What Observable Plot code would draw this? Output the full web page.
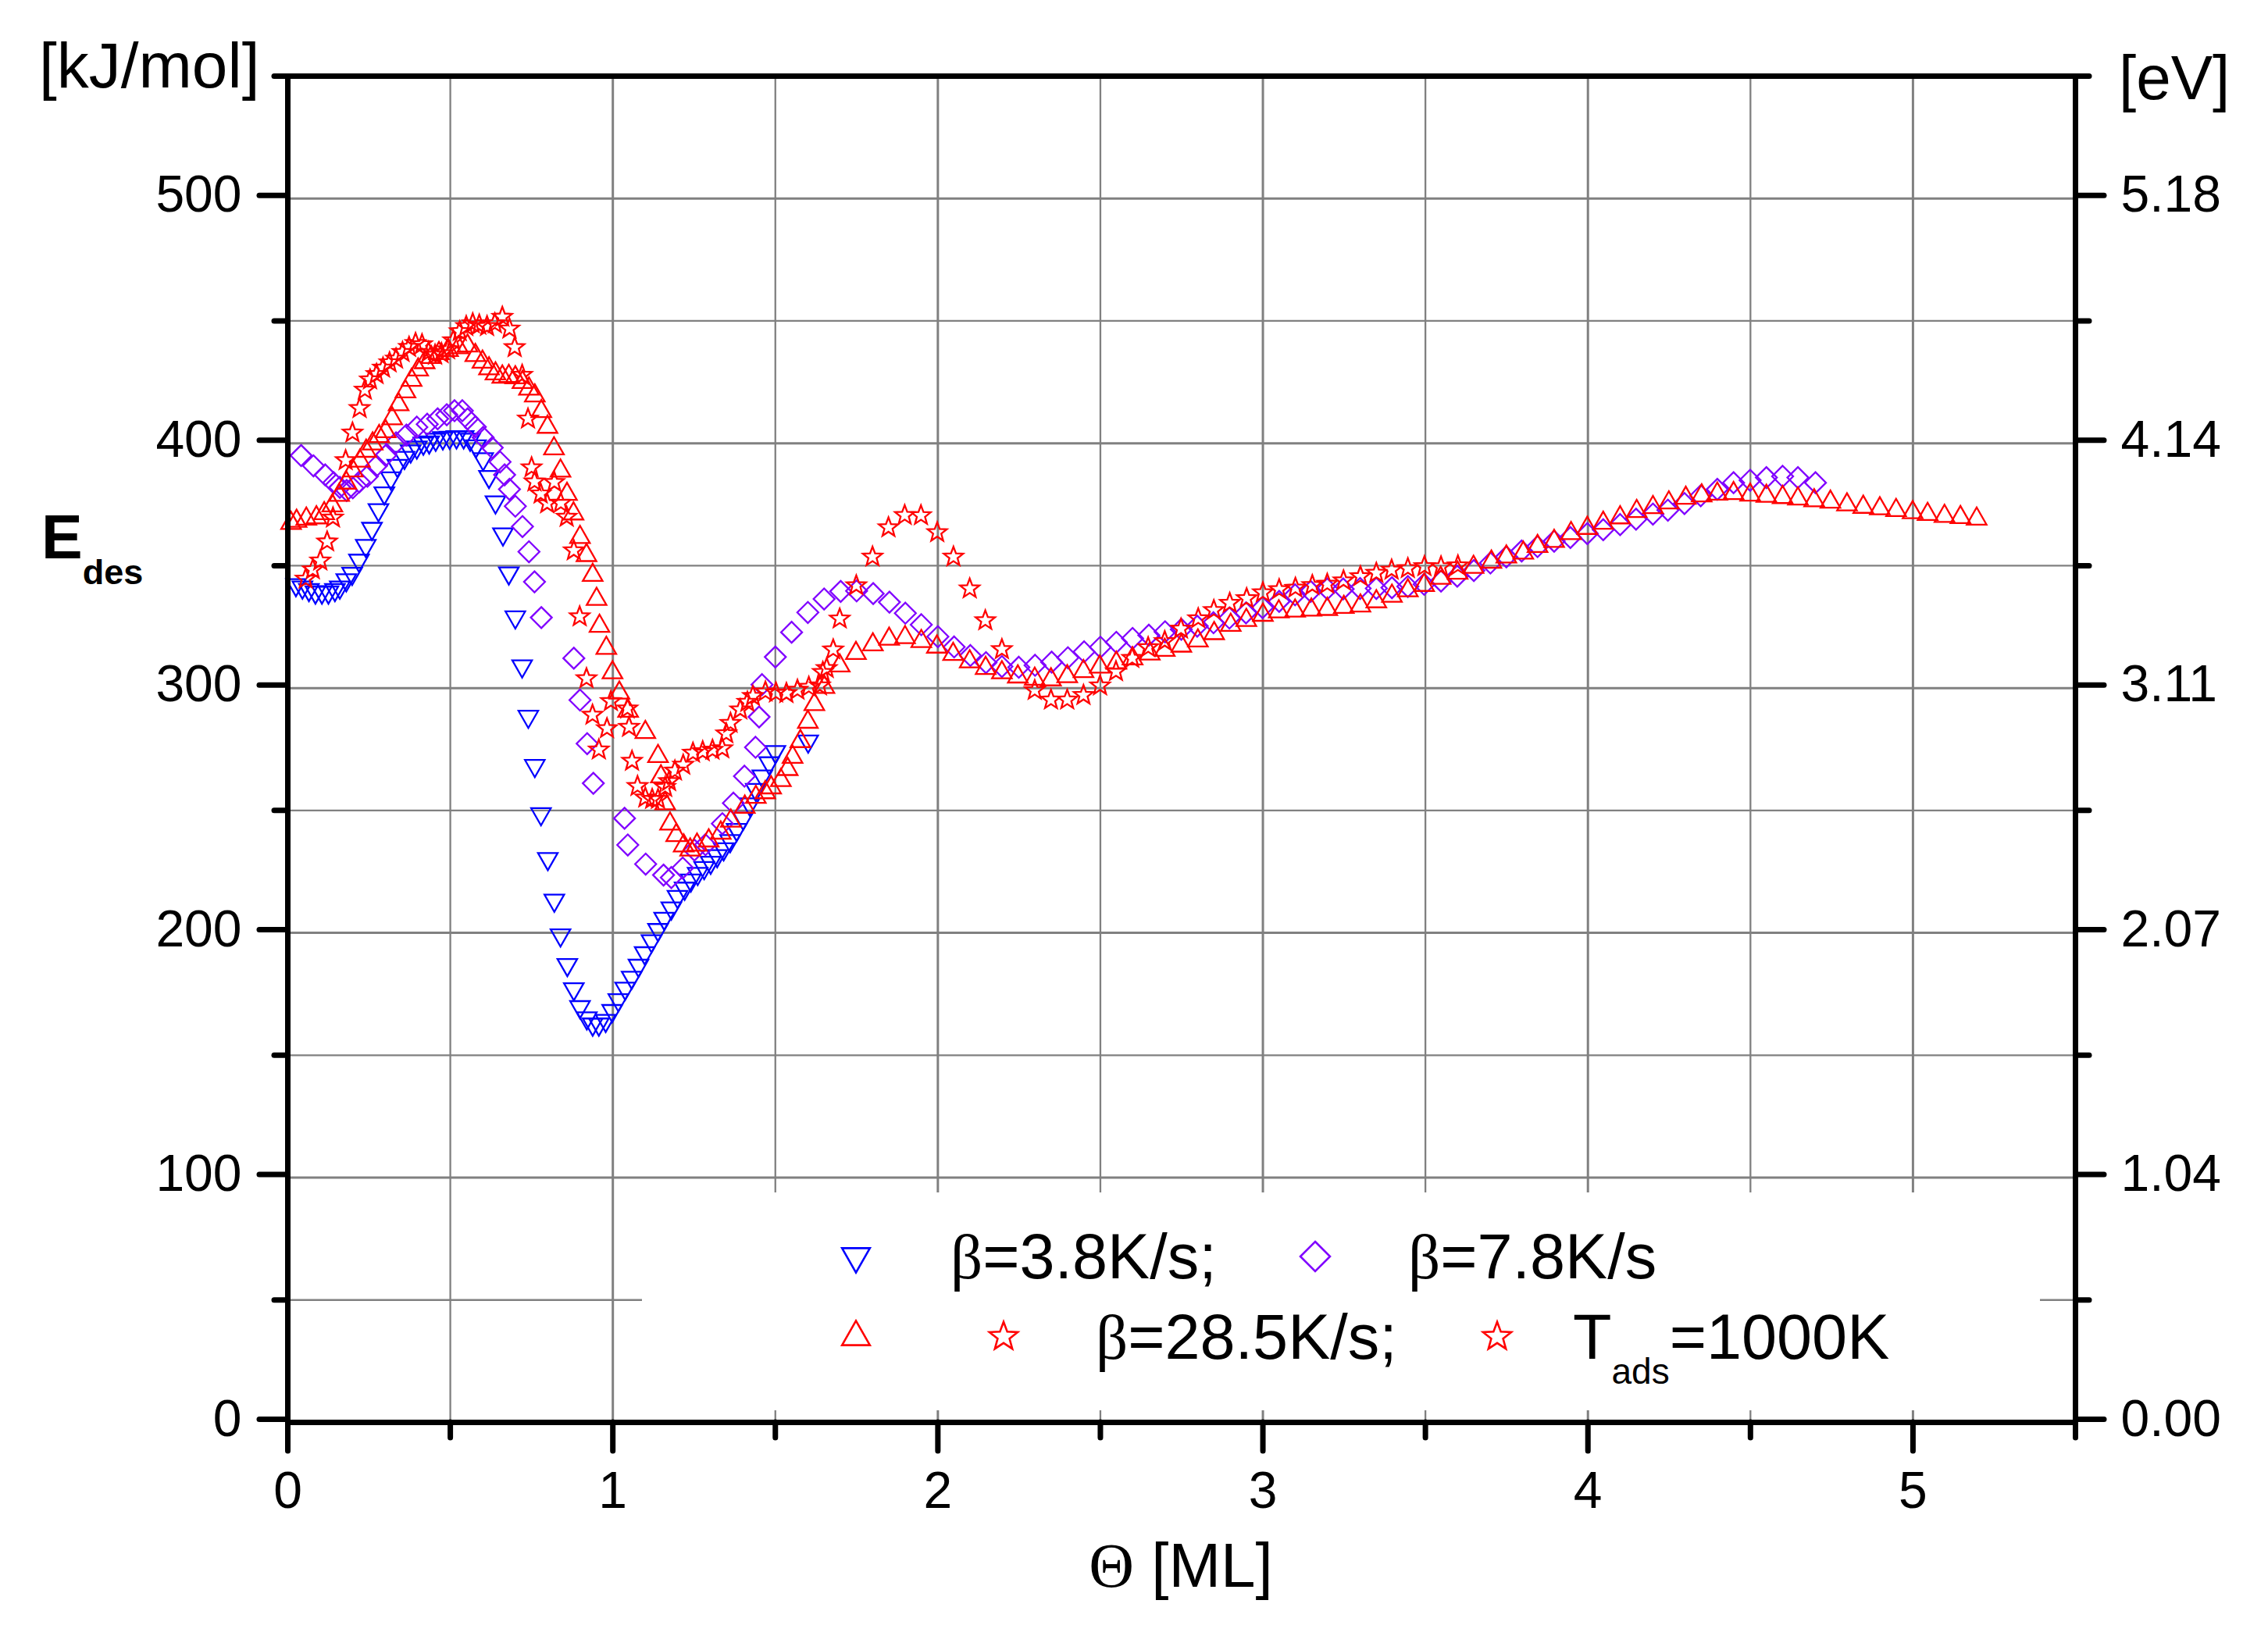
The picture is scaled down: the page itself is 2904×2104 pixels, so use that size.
<!DOCTYPE html>
<html><head><meta charset="utf-8">
<script src="https://cdn.jsdelivr.net/npm/d3@7"></script>
<script src="https://cdn.jsdelivr.net/npm/@observablehq/plot@0.6"></script>
<style>
html,body{margin:0;padding:0;background:#fff;}
#chart{position:relative;width:2904px;height:2104px;}
</style>
</head><body><div id="chart"></div>
<script>
// ---- tick values and labels ----
const xMajor = [0, 1, 2, 3, 4, 5];
const xMinor = [0.5, 1.5, 2.5, 3.5, 4.5, 5.5];
const yMajor = [0, 100, 200, 300, 400, 500];
const yMinor = [50, 150, 250, 350, 450, 550];
const eVLabels = ["0.00", "1.04", "2.07", "3.11", "4.14", "5.18"];

// ---- series: [coverage (ML), E_des (kJ/mol)] ----
const beta38 = [
[0.025,341],[0.045,340],[0.065,339],[0.085,338],[0.105,338],[0.125,338],[0.145,339],
[0.160,340],[0.180,343],[0.198,345.6],[0.219,351],[0.240,357],[0.259,364],[0.279,371.6],
[0.297,378.5],[0.317,384.6],[0.337,389.7],[0.359,393],[0.378,395.6],[0.397,397.2],[0.417,398.8],
[0.435,399.3],[0.455,400.4],[0.477,401],[0.498,401.2],[0.519,401.4],[0.541,401.4],[0.561,400.4],
[0.579,397.7],[0.601,392.4],[0.619,385.2],[0.639,374.8],[0.662,361.7],[0.680,345.8],[0.700,327.8],
[0.721,307.8],[0.740,287.2],[0.760,267.1],[0.779,247.4],[0.800,229.1],[0.820,212.1],[0.839,197.9],
[0.860,185.8],[0.880,175.9],[0.899,168.6],[0.920,164],[0.938,161.5],[0.957,161.5],[0.978,163],
[0.998,167],[1.017,171.4],[1.038,176.1],[1.058,180.6],[1.079,185.5],[1.098,190.6],[1.119,195.5],
[1.139,200.1],[1.158,204.7],[1.180,208.9],[1.199,213.6],[1.221,217],[1.240,220.3],[1.261,223],
[1.281,225.4],[1.301,227.6],[1.321,230.3],[1.341,233.1],[1.361,236.4],[1.381,241],[1.401,245.6],
[1.421,251.4],[1.440,257.3],[1.460,262.8],[1.481,268.2],[1.500,272.8],[1.601,277.1]
];
const beta78 = [
[0.041,395],[0.079,390.8],[0.115,387.1],[0.141,383.9],[0.160,382],[0.181,380.7],[0.200,381.8],
[0.220,384.2],[0.245,386.5],[0.273,390.8],[0.301,395],[0.333,400.2],[0.365,403.4],[0.397,406.6],
[0.429,407.8],[0.461,410],[0.489,411.7],[0.513,413.3],[0.537,413.3],[0.553,410],[0.577,406.7],
[0.601,402.4],[0.629,398.2],[0.653,392.4],[0.667,387.1],[0.682,381.2],[0.700,374.3],[0.722,366],
[0.742,355.7],[0.759,343.4],[0.780,328.8],[0.880,312.2],[0.899,295.1],[0.921,277.3],[0.940,261.1],
[1.036,246.8],[1.046,235.9],[1.101,228.1],[1.156,223.6],[1.180,222.6],[1.215,226.5],[1.251,233.8],
[1.285,236],[1.337,244.6],[1.371,253],[1.405,264],[1.439,275.8],[1.450,288.2],[1.459,301.4],
[1.500,312.7],[1.550,322.8],[1.600,330.9],[1.650,336.4],[1.701,339.5],[1.750,339.7],[1.801,338.6],
[1.851,335.1],[1.900,330.6],[1.949,325.9],[2.000,321],[2.050,316.8],[2.100,313.3],[2.148,310.4],
[2.197,308.8],[2.249,308.5],[2.299,309.3],[2.350,310.6],[2.400,312.4],[2.450,314.8],[2.500,316.7],
[2.549,318.7],[2.599,320.3],[2.649,321.6],[2.699,323],[2.749,324],[2.798,325.3],[2.848,326.7],
[2.897,328.6],[2.948,330.7],[2.999,332.9],[3.050,335.4],[3.099,338.1],[3.147,339.5],[3.198,340.5],
[3.247,340.5],[3.299,340.7],[3.349,340.7],[3.397,341],[3.446,341.5],[3.496,342.4],[3.548,343.7],
[3.598,345.7],[3.649,348],[3.700,351.1],[3.749,353.6],[3.796,356],[3.845,357.8],[3.896,360],
[3.946,361.5],[3.998,363.1],[4.047,364.7],[4.099,366.8],[4.148,369],[4.200,371.1],[4.246,372.7],
[4.297,375.4],[4.347,378.6],[4.398,381.2],[4.448,383.9],[4.499,384.9],[4.549,386],[4.599,386.5],
[4.646,386],[4.700,383.9]
];
const beta285 = [
[0.010,368.5],[0.027,369.4],[0.057,370.3],[0.088,370.8],[0.112,372.5],[0.137,375.7],[0.158,380],
[0.180,385],[0.200,390],[0.222,394],[0.241,398],[0.261,401],[0.281,404],[0.301,406],[0.321,411.3],
[0.341,417],[0.362,422.3],[0.381,427],[0.401,431.2],[0.421,434.2],[0.441,436.3],[0.465,437.9],
[0.493,439.2],[0.525,440.3],[0.553,441],[0.577,437.1],[0.599,434.4],[0.619,431.7],[0.639,429.6],
[0.660,428.3],[0.680,428.6],[0.700,428],[0.722,426.1],[0.742,423.4],[0.760,420.6],[0.780,414.2],
[0.799,407.8],[0.819,399],[0.839,389.9],[0.859,380.4],[0.879,372.4],[0.899,362.8],[0.919,355.4],
[0.938,347.3],[0.950,337.5],[0.959,326.5],[0.980,317.5],[0.999,307.5],[1.020,299.2],[1.047,291.8],
[1.100,283.1],[1.139,273.3],[1.148,265],[1.161,254],[1.176,245.7],[1.195,241],[1.218,236.8],
[1.238,235.1],[1.259,237.1],[1.295,238.8],[1.332,242],[1.363,246.9],[1.406,252.6],[1.440,256.6],
[1.469,258.5],[1.487,260.5],[1.517,263.5],[1.538,268],[1.553,273],[1.577,279.4],[1.600,287.3],
[1.620,294.5],[1.651,301.5],[1.698,310.3],[1.748,315.4],[1.800,318.9],[1.850,321.2],[1.899,321.9],
[1.949,320.3],[1.997,318],[2.047,315],[2.098,312],[2.147,309.3],[2.197,307.5],[2.246,305.8],
[2.298,304.9],[2.348,304.6],[2.398,305.9],[2.448,308],[2.498,309.8],[2.549,311.4],[2.599,313.2],
[2.652,315.2],[2.698,316.7],[2.749,318.4],[2.800,320.5],[2.850,323.5],[2.901,326.9],[2.949,328.9],
[3.000,331],[3.049,332.4],[3.099,332.7],[3.149,333.1],[3.198,333.4],[3.249,334.2],[3.300,334.8],
[3.349,336.5],[3.397,338.8],[3.446,341],[3.496,343.2],[3.547,346.1],[3.599,348.2],[3.648,350.6],
[3.703,352.7],[3.749,354.8],[3.801,356.4],[3.845,359.1],[3.896,361.2],[3.948,364.4],[3.998,366.5],
[4.047,368.6],[4.099,370.8],[4.150,373.4],[4.200,375],[4.249,376.9],[4.301,378.8],[4.350,379.8],
[4.398,380.5],[4.448,380.7],[4.499,380.1],[4.549,379.6],[4.599,379.1],[4.646,378.5],[4.696,377.8],
[4.746,377.2],[4.797,376.1],[4.847,375.1],[4.898,374.5],[4.948,373.8],[4.999,372.9],[5.045,372.2],
[5.097,371.4],[5.146,370.9],[5.196,370.3]
];
const tads1000 = [
[0.055,345],[0.077,348.8],[0.100,352.4],[0.121,360.2],[0.139,370],[0.178,393.4],[0.199,404.7],
[0.221,414.7],[0.237,422.2],[0.253,426.4],[0.273,428.6],[0.293,431.2],[0.313,433.4],[0.333,434.9],
[0.353,437.6],[0.373,439.7],[0.393,441.3],[0.413,440.8],[0.433,437.6],[0.453,436.5],[0.473,437.1],
[0.493,438.7],[0.509,442.4],[0.529,446.1],[0.549,448.2],[0.569,449.3],[0.589,448.8],[0.613,448.2],
[0.637,449.3],[0.660,452],[0.682,447.2],[0.698,439.6],[0.721,428.3],[0.739,410.4],[0.750,390.5],
[0.759,384.7],[0.778,379.8],[0.798,375.8],[0.820,384.5],[0.840,376],[0.858,370.3],[0.880,356.6],
[0.898,329.6],[0.919,304.3],[0.9375,289.4],[0.957,275.2],[0.982,283.9],[0.994,295],[1.045,292],
[1.050,284.5],[1.059,270.6],[1.076,260.3],[1.100,255.6],[1.121,255],[1.139,255],[1.161,259.9],
[1.173,262.3],[1.191,266.6],[1.2165,269],[1.2465,273.9],[1.2765,274.5],[1.3066,275.1],[1.3366,275.7],
[1.349,281.8],[1.362,286.1],[1.392,291.6],[1.414,294.7],[1.431,297.1],[1.4695,298.9],[1.502,298.5],
[1.534,298.3],[1.568,299.6],[1.603,300.8],[1.637,301.4],[1.646,306.9],[1.658,308.5],[1.678,316.1],
[1.698,328.7],[1.749,342.3],[1.799,354],[1.848,366],[1.898,371],[1.948,370.9],[1.998,364],
[2.048,354],[2.098,341],[2.146,328],[2.197,316.2],[2.298,299.5],[2.348,295.6],[2.398,295.6],
[2.448,297.5],[2.499,301.4],[2.548,307.2],[2.598,312.6],[2.647,317],[2.698,319.5],[2.748,324.6],
[2.801,328.8],[2.849,332.2],[2.898,335.1],[2.950,337],[3.000,339.4],[3.050,340.7],[3.100,341.3],
[3.152,342.4],[3.198,342.9],[3.248,344.3],[3.300,346],[3.349,347.4],[3.396,348.7],[3.446,349.3],
[3.497,350.1],[3.548,350],[3.600,350.4]
];

// ---- styling ----
const BLUE = "#0000ff", PURPLE = "#8000ff", RED = "#ff0000", GRID = "#808080";
const FONT = "'Liberation Sans', Arial, Helvetica, sans-serif";
const SERIF = "'Liberation Serif', 'Times New Roman', serif";

// custom outline symbols (bbox-centred)
const triDown = {draw(c, s){const r=Math.sqrt(s/Math.PI), w=1.05*r, h=0.92*r; c.moveTo(-w,-h); c.lineTo(w,-h); c.lineTo(0,h); c.closePath();}};
const triUp = {draw(c, s){const r=Math.sqrt(s/Math.PI), w=1.05*r, h=0.92*r; c.moveTo(0,-h); c.lineTo(w,h); c.lineTo(-w,h); c.closePath();}};
const diam = {draw(c, s){const r=Math.sqrt(s/Math.PI); c.moveTo(0,-r); c.lineTo(r,0); c.lineTo(0,r); c.lineTo(-r,0); c.closePath();}};
const star5 = {draw(c, s){const R=Math.sqrt(s/Math.PI), ri=0.42*R; const dy=R*(1-Math.cos(Math.PI/5))/2;
  for(let i=0;i<10;i++){const a=-Math.PI/2+i*Math.PI/5, rr=i%2?ri:R; const px=rr*Math.cos(a), py=rr*Math.sin(a)+dy; i?c.lineTo(px,py):c.moveTo(px,py);} c.closePath();}};

const W = 2904, H = 2104;
const mL = 368, mR = 247, mT = 97, mB = 283;

const dotOpts = (sym, r, col) => ({x: d => d[0], y: d => d[1], symbol: sym, r, stroke: col, strokeWidth: 2.3, fill: "none"});

const plot = Plot.plot({
  width: W, height: H,
  marginLeft: mL, marginRight: mR, marginTop: mT, marginBottom: mB,
  x: {domain: [0, 5.5]},
  y: {domain: [0, 550]},
  style: {fontFamily: FONT, background: "white", color: "black", overflow: "visible"},
  marks: [
    Plot.gridX(xMinor, {stroke: GRID, strokeOpacity: 1, strokeWidth: 2.3}),
    Plot.gridX(xMajor, {stroke: GRID, strokeOpacity: 1, strokeWidth: 3}),
    Plot.gridY(yMinor, {stroke: GRID, strokeOpacity: 1, strokeWidth: 2.3}),
    Plot.gridY(yMajor, {stroke: GRID, strokeOpacity: 1, strokeWidth: 3}),
    Plot.dot(beta38, dotOpts(triDown, 12, BLUE)),
    Plot.dot(beta78, dotOpts(diam, 13.5, PURPLE)),
    Plot.dot(beta285, dotOpts(triUp, 12, RED)),
    Plot.dot(tads1000, dotOpts(star5, 13, RED)),
    Plot.axisY(yMajor, {anchor: "left", tickSize: 36, tickPadding: 23, strokeWidth: 7, strokeLinecap: "round", fontSize: 66, tickFormat: d => String(d), dy: -4, label: null}),
    Plot.axisY(yMinor, {anchor: "left", tickSize: 17, strokeWidth: 7, strokeLinecap: "round", tickFormat: () => "", label: null}),
    Plot.axisY(yMajor, {anchor: "right", tickSize: 36, tickPadding: 22, strokeWidth: 7, strokeLinecap: "round", fontSize: 66, tickFormat: d => eVLabels[yMajor.indexOf(d)], dy: -4, label: null}),
    Plot.axisY(yMinor, {anchor: "right", tickSize: 17, strokeWidth: 7, strokeLinecap: "round", tickFormat: () => "", label: null}),
    Plot.axisX(xMajor, {anchor: "bottom", tickSize: 37, tickPadding: 26, strokeWidth: 7, strokeLinecap: "round", fontSize: 66, tickFormat: d => String(d), label: null}),
    Plot.axisX(xMinor, {anchor: "bottom", tickSize: 20, strokeWidth: 7, strokeLinecap: "round", tickFormat: () => "", label: null}),
    Plot.frame({stroke: "black", strokeWidth: 7})
  ]
});

document.getElementById("chart").appendChild(plot);

// ---- overlay: axis titles & legend ----
const svg = d3.select(plot);
const g = svg.append("g").attr("font-family", FONT).attr("fill", "black").attr("text-anchor", "start").attr("font-size", 81);

g.append("text").attr("x", 50).attr("y", 112).attr("font-size", 82).text("[kJ/mol]");
g.append("text").attr("x", 2713).attr("y", 127).attr("font-size", 80).text("[eV]");
const eT = g.append("text").attr("x", 53).attr("y", 715).attr("font-size", 79).attr("font-weight", "bold");
eT.append("tspan").text("E");
eT.append("tspan").attr("font-size", 45).attr("dy", 33).text("des");
const xT = g.append("text").attr("x", 1512).attr("y", 2032).attr("text-anchor", "middle").attr("font-size", 80);
xT.append("tspan").attr("font-family", SERIF).text("Θ");
xT.append("tspan").text(" [ML]");

// legend box (white, hides grid)
g.append("rect").attr("x", 822).attr("y", 1527).attr("width", 2612 - 822).attr("height", 1806 - 1527).attr("fill", "white");

const sym = (type, size, cx, cy, col) => g.append("path")
  .attr("d", d3.symbol(type, size)()).attr("transform", `translate(${cx},${cy})`)
  .attr("fill", "none").attr("stroke", col).attr("stroke-width", 2.6);
sym(triDown, Math.PI * 17 * 17, 1096, 1614, BLUE);
sym(diam, Math.PI * 19 * 19, 1684, 1609, PURPLE);
sym(triUp, Math.PI * 17 * 17, 1096, 1707, RED);
sym(star5, Math.PI * 19 * 19, 1285, 1710, RED);
sym(star5, Math.PI * 19 * 19, 1917, 1710, RED);

const legText = (x, y, parts) => {
  const t = g.append("text").attr("x", x).attr("y", y).attr("font-size", 81).attr("text-anchor", "start");
  parts.forEach(p => { const s = t.append("tspan").text(p.t); if (p.serif) s.attr("font-family", SERIF); if (p.fs) s.attr("font-size", p.fs); if (p.dy) s.attr("dy", p.dy); });
  return t;
};
legText(1217, 1637, [{t: "β", serif: true}, {t: "=3.8K/s;"}]);
legText(1803, 1637, [{t: "β", serif: true}, {t: "=7.8K/s"}]);
legText(1403, 1740, [{t: "β", serif: true}, {t: "=28.5K/s;"}]);
legText(2014, 1740, [{t: "T"}, {t: "ads", fs: 46, dy: 32}, {t: "=1000K", dy: -32}]);
</script>
</body></html>
